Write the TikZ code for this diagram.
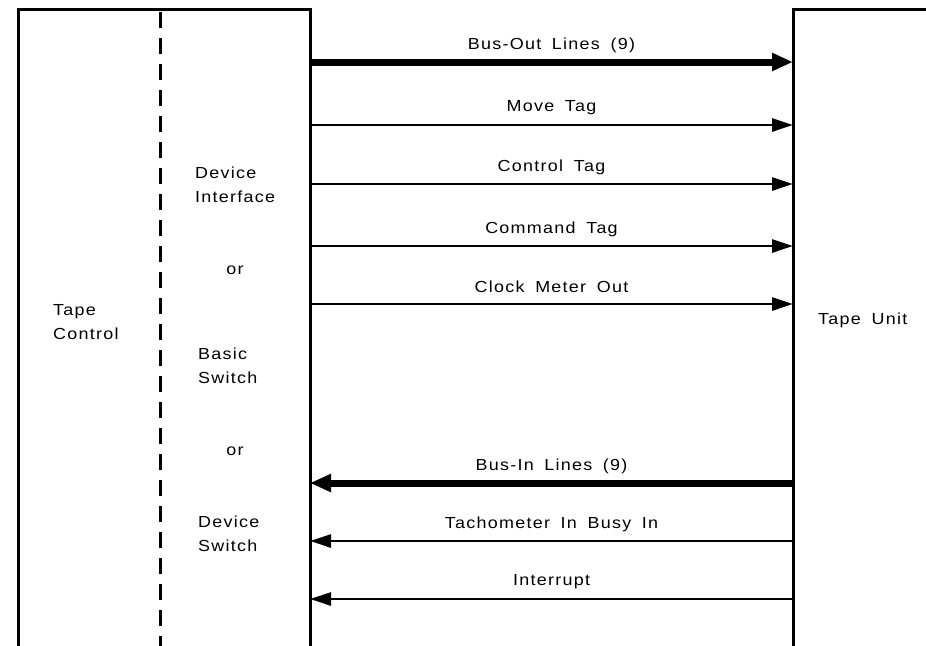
\documentclass[tikz,border=0pt]{standalone}
\usepackage{fontspec}
\setmainfont{Liberation Sans}[FakeStretch=1.12,LetterSpace=8,WordSpace=1.7]
\usetikzlibrary{arrows.meta}

\def\lx{310}
\def\rx{793}

\begin{document}
\begin{tikzpicture}[x=1pt, y=-1pt,
    font=\fontsize{16}{24}\selectfont,
    frame/.style={line width=3pt},
    sig/.style={line width=2.8pt, -{Triangle[length=21pt, width=13pt]}},
    bus/.style={line width=7pt, -{Triangle[length=21pt, width=17pt]}},
    txt/.style={inner sep=0pt, align=left, anchor=west}]
  \useasboundingbox (0,0) rectangle (926,645);

  % units
  \draw[frame] (18,650) -- (18,9) -- (\lx,9) -- (\lx,650);
  \draw[frame] (\rx,650) -- (\rx,9) -- (935,9);
  \draw[frame, dash pattern=on 16pt off 10pt] (160,12) -- (160,650);

  \node[txt] (tapectl) at (53,322) {Tape\\Control};
  \node[txt] (devif) at (195,185) {Device\\Interface};
  \node[inner sep=0pt] (or1) at (235,270) {or};
  \node[txt] (basic) at (198,366) {Basic\\Switch};
  \node[inner sep=0pt] (or2) at (235,451) {or};
  \node[txt] (devsw) at (198,534) {Device\\Switch};
  \node[txt] (tapeunit) at (818,320) {Tape Unit};

  % lines to the tape unit
  \foreach \i/\y/\s/\t in {1/62/bus/Bus-Out Lines (9), 2/125/sig/Move Tag,
      3/184/sig/Control Tag, 4/246/sig/Command Tag, 5/304/sig/Clock Meter Out}{
    \coordinate (o\i) at (\lx,\y);
    \coordinate (t\i) at (\rx,\y);
    \draw[\s] (o\i) -- (t\i) node[midway, yshift=17pt] (ol\i) {\t};
  }

  % lines back from the tape unit
  \foreach \i/\y/\s/\t in {1/483/bus/Bus-In Lines (9), 2/541/sig/Tachometer In Busy In,
      3/599/sig/Interrupt}{
    \coordinate (f\i) at (\rx,\y);
    \coordinate (b\i) at (\lx,\y);
    \draw[\s] (f\i) -- (b\i) node[midway, yshift=17pt] (il\i) {\t};
  }

\end{tikzpicture}
\end{document}
